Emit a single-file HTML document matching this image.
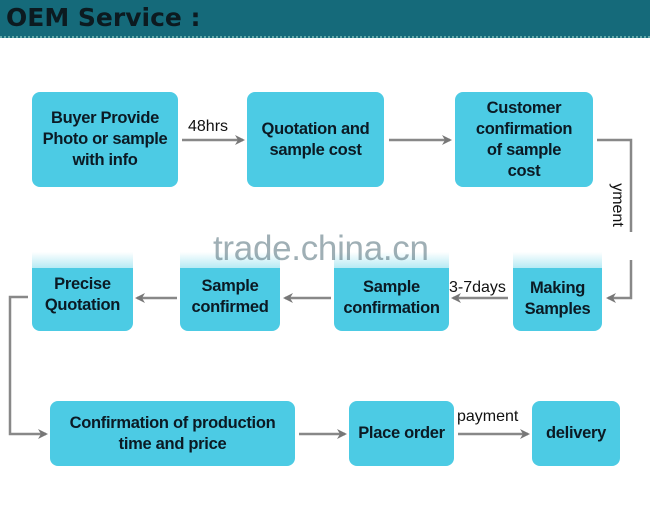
<!DOCTYPE html>
<html><head><style>
body{margin:0;width:650px;height:525px;background:#fff;position:relative;overflow:hidden;font-family:"Liberation Sans",sans-serif}
.hd{position:absolute;left:0;top:0;width:650px;height:36px;background:#156a7a;border-bottom:2px dotted #6aa;}
.hd span{position:absolute;left:6px;top:3px;font:bold 25px "DejaVu Sans",sans-serif;color:#0c1a20;letter-spacing:0px}
.b{position:absolute;background:#4ccbe4;border-radius:8px;display:flex;align-items:center;justify-content:center;text-align:center;font-weight:bold;font-size:16.5px;line-height:21px;color:#0b1a24;letter-spacing:-0.3px}
.f{position:absolute;height:18px;background:linear-gradient(#fff,#aee8f3);}
.t{position:absolute;font-size:16px;color:#111}
</style></head><body>
<div class="hd"><span>OEM Service :</span></div>
<svg width="650" height="525" style="position:absolute;left:0;top:0">
<defs><marker id="a" markerWidth="10" markerHeight="10" refX="8" refY="5" orient="auto" markerUnits="userSpaceOnUse"><path d="M0,0 L10,5 L0,10 L3,5z" fill="#777"/></marker></defs>
<g stroke="#888" stroke-width="2.5" fill="none" marker-end="url(#a)">
<line x1="182" y1="140" x2="243" y2="140"/>
<line x1="389" y1="140" x2="450" y2="140"/>
<polyline points="597,140 631,140 631,298 608,298"/>
<line x1="508" y1="298" x2="453" y2="298"/>
<line x1="331" y1="298" x2="285" y2="298"/>
<line x1="177" y1="298" x2="137" y2="298"/>
<polyline points="28,297 10,297 10,434 46,434"/>
<line x1="299" y1="434" x2="345" y2="434"/>
<line x1="458" y1="434" x2="528" y2="434"/>
</g>
<rect x="606" y="232" width="34" height="28" fill="#fff"/>
</svg>
<div class="f" style="left:32px;top:252px;width:101px"></div>
<div class="f" style="left:180px;top:252px;width:100px"></div>
<div class="f" style="left:334px;top:252px;width:115px"></div>
<div class="f" style="left:513px;top:252px;width:89px"></div>
<div class="b" style="left:32px;top:92px;width:146px;height:95px">Buyer Provide<br>Photo or sample<br>with info</div>
<div class="b" style="left:247px;top:92px;width:137px;height:95px">Quotation and<br>sample cost</div>
<div class="b" style="left:455px;top:92px;width:138px;height:95px">Customer<br>confirmation<br>of sample<br>cost</div>
<div class="b" style="left:32px;top:268px;width:101px;height:63px;border-radius:0 0 8px 8px;align-items:flex-start;padding-top:6px;box-sizing:border-box">Precise<br>Quotation</div>
<div class="b" style="left:180px;top:268px;width:100px;height:63px;border-radius:0 0 8px 8px;align-items:flex-start;padding-top:8px;box-sizing:border-box">Sample<br>confirmed</div>
<div class="b" style="left:334px;top:268px;width:115px;height:63px;border-radius:0 0 8px 8px;align-items:flex-start;padding-top:9px;box-sizing:border-box">Sample<br>confirmation</div>
<div class="b" style="left:513px;top:268px;width:89px;height:63px;border-radius:0 0 8px 8px;align-items:flex-start;padding-top:10px;box-sizing:border-box">Making<br>Samples</div>
<div class="b" style="left:50px;top:401px;width:245px;height:65px">Confirmation of production<br>time and price</div>
<div class="b" style="left:349px;top:401px;width:105px;height:65px">Place order</div>
<div class="b" style="left:532px;top:401px;width:88px;height:65px">delivery</div>
<div class="t" style="left:188px;top:118px">48hrs</div>
<div class="t" style="left:449px;top:279px">3-7days</div>
<div class="t" style="left:457px;top:408px">payment</div>
<div class="t" style="left:590px;top:196px;width:54px;text-align:center;transform:rotate(90deg);transform-origin:center">yment</div>
<div style="position:absolute;left:213px;top:229px;font-size:35px;color:rgba(80,110,120,0.55);letter-spacing:-0.3px">trade.china.cn</div>
</body></html>
